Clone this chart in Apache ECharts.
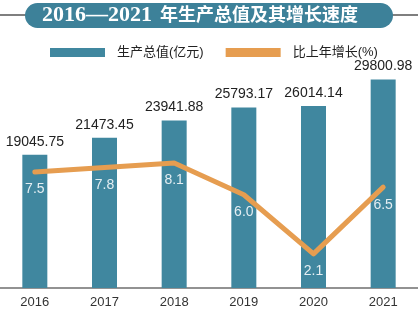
<!DOCTYPE html>
<html>
<head>
<meta charset="utf-8">
<script src="https://cdn.jsdelivr.net/npm/echarts@6/dist/echarts.min.js"></script>
<style>
  html, body { margin: 0; padding: 0; background: #fff; }
  #chart { width: 418px; height: 322px; }
</style>
</head>
<body>
<div id="chart"></div>
<script>
// Gross output and year-on-year growth, 2016–2021
const years = ['2016', '2017', '2018', '2019', '2020', '2021'];
const gdpValues = [19045.75, 21473.45, 23941.88, 25793.17, 26014.14, 29800.98];
const growthRates = [7.5, 7.8, 8.1, 6.0, 2.1, 6.5];
const seriesNames = ['生产总值(亿元)', '比上年增长(%)'];
const titleYears = '2016—2021';
const titleText = '年生产总值及其增长速度';

const BAR_COLOR = '#40879f';
const LINE_COLOR = '#e69d50';
const BANNER_COLOR = '#3d8199';
const SANS = "'Liberation Sans', 'Noto Sans CJK SC', sans-serif";

const chart = echarts.init(document.getElementById('chart'), null, { renderer: 'canvas' });

chart.setOption({
  backgroundColor: '#ffffff',
  animation: false,
  graphic: [
    { type: 'line', shape: { x1: 0, y1: 15, x2: 30, y2: 15 }, style: { stroke: '#555', lineWidth: 1.5 } },
    { type: 'line', shape: { x1: 388, y1: 15, x2: 418, y2: 15 }, style: { stroke: '#555', lineWidth: 1.5 } },
    { type: 'rect', shape: { x: 25, y: 3, width: 368, height: 25, r: 12.5 }, style: { fill: BANNER_COLOR } },
    {
      type: 'text', left: 42, top: 4,
      style: { text: titleYears, fill: '#fff', font: "bold 22px 'Liberation Serif', serif" }
    },
    {
      type: 'text', left: 160, top: 5,
      style: { text: titleText, fill: '#fff', font: "bold 18px 'Noto Sans CJK SC', sans-serif" }
    }
  ],
  legend: {
    left: 45,
    top: 41,
    itemWidth: 55,
    itemHeight: 9,
    itemGap: 22,
    icon: 'rect',
    data: [
      { name: seriesNames[0], itemStyle: { color: BAR_COLOR } },
      { name: seriesNames[1], itemStyle: { color: LINE_COLOR } }
    ],
    textStyle: { fontSize: 13, color: '#222', fontFamily: SANS, padding: [0, 0, 0, 7] }
  },
  grid: { left: -5.5, right: -8.5, top: 78, bottom: 34, containLabel: false },
  xAxis: {
    type: 'category',
    data: years,
    axisTick: { show: false },
    axisLine: { lineStyle: { color: '#6e6e6e', width: 1.5 } },
    axisLabel: { fontSize: 13, color: '#333', margin: 8, fontFamily: SANS }
  },
  yAxis: [
    { type: 'value', min: 0, max: 30000, show: false, splitLine: { show: false } },
    { type: 'value', min: -0.15, max: 13.7, show: false, splitLine: { show: false } }
  ],
  series: [
    {
      name: seriesNames[0],
      type: 'bar',
      data: gdpValues,
      barWidth: 25,
      itemStyle: { color: BAR_COLOR },
      label: {
        show: true,
        position: 'top',
        distance: 6,
        fontSize: 14,
        color: '#222',
        fontFamily: SANS,
        formatter: p => p.value.toFixed(2)
      },
      z: 2
    },
    {
      name: seriesNames[1],
      type: 'line',
      yAxisIndex: 1,
      data: growthRates,
      symbol: 'circle',
      symbolSize: 1,
      showSymbol: true,
      itemStyle: { color: LINE_COLOR },
      lineStyle: { color: LINE_COLOR, width: 5, cap: 'round', join: 'round' },
      label: {
        show: true,
        position: 'bottom',
        distance: 10,
        fontSize: 14,
        color: '#e4eef2',
        fontFamily: SANS,
        formatter: p => p.value.toFixed(1)
      },
      z: 3
    }
  ]
});
</script>
</body>
</html>
